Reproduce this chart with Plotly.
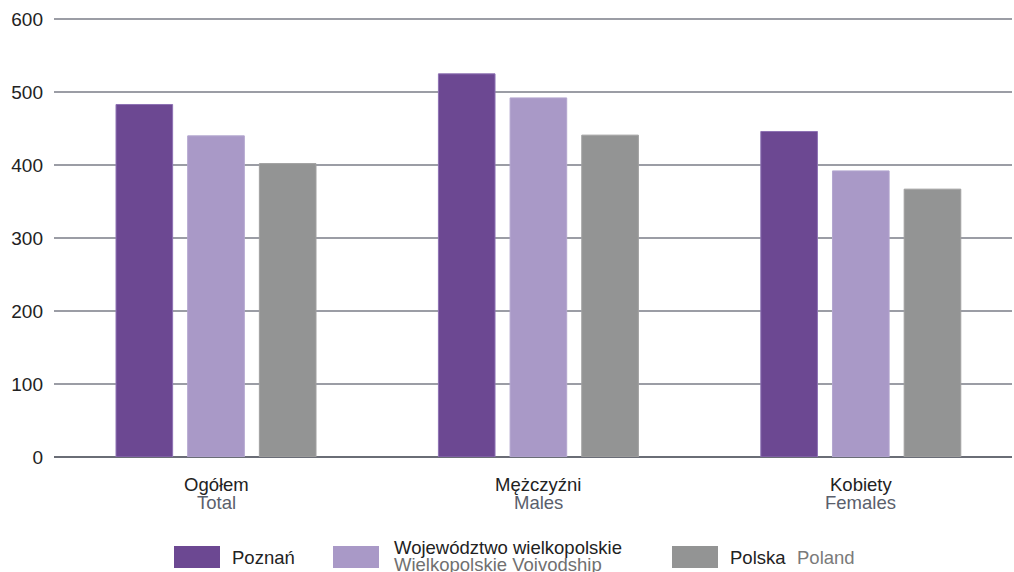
import plotly.graph_objects as go

# ---- data ----
categories_pl = ["Ogółem", "Mężczyźni", "Kobiety"]
categories_en = ["Total", "Males", "Females"]
series_names_pl = ["Poznań", "Województwo wielkopolskie", "Polska"]
series_names_en = ["", "Wielkopolskie Voivodship", "Poland"]
poznan = [483, 525, 446]
wielkopolskie = [440, 492, 392]
polska = [402, 441, 367]
y_ticks = [0, 100, 200, 300, 400, 500, 600]

colors = ["#6c4892", "#a999c7", "#939494"]
outline = ["#8e72b4", "#b3a6cf", "#a0a0a0"]
series_vals = [poznan, wielkopolskie, polska]

W, H = 1014, 572
ML, MR, MT, MB = 54, 2, 18, 115
PW, PH = W - ML - MR, H - MT - MB
FONT = "Liberation Sans, Arial, sans-serif"
FS = 19
FSL = 18.5


def px(x):
    return (x - ML) / PW


def py(y):
    return (H - MB - y) / PH


fig = go.Figure()
for name, vals, c, oc in zip(series_names_pl, series_vals, colors, outline):
    fig.add_trace(go.Bar(
        x=categories_pl, y=vals, name=name,
        marker=dict(color=c, line=dict(color=oc, width=1)),
        showlegend=False,
    ))

annotations = []
# category labels (two lines, tight spacing)
for pl, en in zip(categories_pl, categories_en):
    annotations.append(dict(x=pl, xref="x", y=0, yref="paper", yanchor="top",
                            yshift=-15, text=pl, showarrow=False,
                            font=dict(family=FONT, size=FSL, color="#222222")))
    annotations.append(dict(x=pl, xref="x", y=0, yref="paper", yanchor="top",
                            yshift=-33, text=en, showarrow=False,
                            font=dict(family=FONT, size=FSL, color="#5a606c")))

# custom legend
shapes = []
legend_swatch_x = [174, 333, 672]
legend_text_x = [230, 392, 728]
for i, (npl, nen) in enumerate(zip(series_names_pl, series_names_en)):
    sx = legend_swatch_x[i]
    shapes.append(dict(type="rect", xref="paper", yref="paper",
                       x0=px(sx), x1=px(sx + 46), y0=py(568), y1=py(546),
                       fillcolor=colors[i], line=dict(width=0)))
    if i == 1:
        annotations.append(dict(x=px(legend_text_x[i]), y=py(535), xref="paper", yref="paper",
                                xanchor="left", yanchor="top", text=npl, showarrow=False,
                                font=dict(family=FONT, size=FSL, color="#222222")))
        annotations.append(dict(x=px(legend_text_x[i]), y=py(552), xref="paper", yref="paper",
                                xanchor="left", yanchor="top", text=nen, showarrow=False,
                                font=dict(family=FONT, size=FSL, color="#707070")))
    else:
        annotations.append(dict(x=px(legend_text_x[i]), y=py(557), xref="paper", yref="paper",
                                xanchor="left", yanchor="middle", text=npl, showarrow=False,
                                font=dict(family=FONT, size=FSL, color="#222222")))
        if nen:
            annotations.append(dict(x=px(795), y=py(557), xref="paper", yref="paper",
                                    xanchor="left", yanchor="middle", text=nen, showarrow=False,
                                    font=dict(family=FONT, size=FSL, color="#7a7a7a")))

fig.update_layout(
    width=W, height=H,
    margin=dict(l=ML, r=MR, t=MT, b=MB, pad=0),
    paper_bgcolor="white", plot_bgcolor="white",
    barmode="group", bargap=0.333, bargroupgap=0.21,
    font=dict(family=FONT, size=FS, color="#222222"),
    annotations=annotations, shapes=shapes,
    xaxis=dict(showticklabels=False, showgrid=False, zeroline=False,
               range=[-0.5025, 2.469], showline=False, ticks=""),
    yaxis=dict(range=[0, 601.5], tickvals=y_ticks, showgrid=True,
               gridcolor="#9b9da5", gridwidth=1.5, zeroline=True,
               zerolinecolor="#6a6d76", zerolinewidth=1.5,
               ticks="", ticklabelstandoff=10,
               tickfont=dict(family=FONT, size=FS, color="#222222")),
)

fig.write_html("out.html", config={"displayModeBar": False},
               post_script="document.body.style.margin='0';document.body.style.overflow='hidden';")
